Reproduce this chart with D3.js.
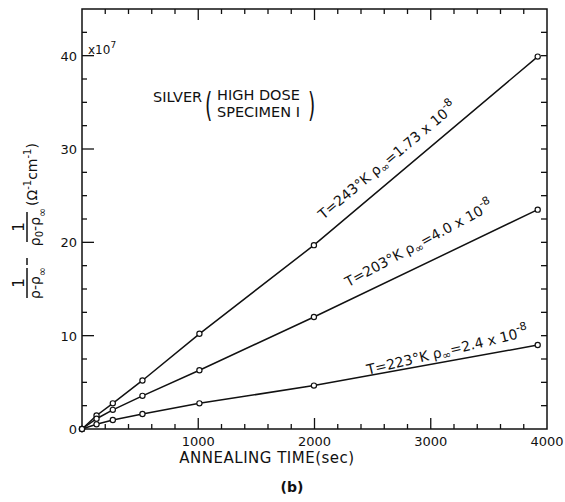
<!DOCTYPE html>
<html>
<head>
<meta charset="UTF-8">
<style>
  body { margin: 0; background: #fff; }
  svg { display: block; font-family: "DejaVu Sans", sans-serif; }
  text { fill: #111; }
</style>
</head>
<body>
<svg id="chart" width="565" height="502"></svg>
<script src="https://d3js.org/d3.v7.min.js"></script>
<script>
// annealing times (sec) at which resistivity was measured
const times = [0, 125, 265, 520, 1010, 1995, 3920];
// 1/(rho-rho_inf) - 1/(rho0-rho_inf), units of 1e7 ohm^-1 cm^-1
const s243 = [0, 1.45, 2.75, 5.2, 10.2, 19.7, 39.9];
const s203 = [0, 1.1, 2.05, 3.55, 6.3, 12.0, 23.5];
const s223 = [0, 0.5, 0.97, 1.6, 2.75, 4.65, 9.0];
const xTicks = [1000, 2000, 3000, 4000];
const yTicks = [0, 10, 20, 30, 40];

const series = [
  { values: s243, T: "243", rho: "1.73", at: [2075, 22.4], angle: -39.7 },
  { values: s203, T: "203", rho: "4.0", at: [2290, 15.2], angle: -28.3 },
  { values: s223, T: "223", rho: "2.4", at: [2460, 5.8], angle: -13.6 }
];

const svg = d3.select("#chart");
const x = d3.scaleLinear().domain([0, 4000]).range([82, 547]);
const y = d3.scaleLinear().domain([0, 45]).range([429, 9]);

// frame
svg.append("rect")
  .attr("x", x(0)).attr("y", y(45))
  .attr("width", x(4000) - x(0)).attr("height", y(0) - y(45))
  .attr("fill", "none").attr("stroke", "#111").attr("stroke-width", 1.5);

// ticks (inward on all four sides)
const ticks = svg.append("g").attr("stroke", "#111").attr("stroke-width", 1.3);
d3.range(200, 4000, 200).forEach(t => {
  const major = t % 1000 === 0;
  const len = major ? 11 : 5;
  ticks.append("line").attr("x1", x(t)).attr("x2", x(t)).attr("y1", y(0)).attr("y2", y(0) - len);
  ticks.append("line").attr("x1", x(t)).attr("x2", x(t)).attr("y1", y(45)).attr("y2", y(45) + len);
});
d3.range(2.5, 45, 2.5).forEach(v => {
  const major = v % 10 === 0;
  ticks.append("line").attr("x1", x(0)).attr("x2", x(0) + (major ? 12 : 5)).attr("y1", y(v)).attr("y2", y(v));
  ticks.append("line").attr("x1", x(4000)).attr("x2", x(4000) - 6).attr("y1", y(v)).attr("y2", y(v));
});

// tick labels
svg.append("g").selectAll("text").data(xTicks).join("text")
  .attr("x", d => x(d)).attr("y", 446)
  .attr("text-anchor", "middle").attr("font-size", 13)
  .text(d => d);
svg.append("g").selectAll("text").data(yTicks).join("text")
  .attr("x", 77).attr("y", d => y(d) + 5)
  .attr("text-anchor", "end").attr("font-size", 13)
  .text(d => d);

const mult = svg.append("text").attr("x", 88).attr("y", 54).attr("font-size", 12);
mult.append("tspan").text("x10");
mult.append("tspan").attr("dy", -6).attr("font-size", 9).text("7");

// lines and points
const line = d3.line().x((d, i) => x(times[i])).y(d => y(d));
series.forEach(s => {
  svg.append("path").datum(s.values)
    .attr("d", line).attr("fill", "none")
    .attr("stroke", "#111").attr("stroke-width", 1.5);
  svg.append("g").selectAll("circle").data(s.values).join("circle")
    .attr("cx", (d, i) => x(times[i])).attr("cy", d => y(d))
    .attr("r", 2.6).attr("fill", "#fff")
    .attr("stroke", "#111").attr("stroke-width", 1.2);

  const lab = svg.append("text")
    .attr("transform", `translate(${x(s.at[0])},${y(s.at[1])}) rotate(${s.angle})`)
    .attr("font-size", 14);
  lab.append("tspan").text(`T=${s.T}°K  ρ`);
  lab.append("tspan").attr("dy", 3).attr("font-size", 11).text("∞");
  lab.append("tspan").attr("dy", -3).text(`=${s.rho} x 10`);
  lab.append("tspan").attr("dy", -7).attr("font-size", 11).text("-8");
});

// title block
svg.append("text").attr("x", 153).attr("y", 102).attr("font-size", 14.5).text("SILVER");
svg.append("text").attr("transform", "translate(205,117) scale(0.55,1)")
  .attr("font-size", 34).text("(");
svg.append("text").attr("x", 217).attr("y", 100).attr("font-size", 14.5).text("HIGH DOSE");
svg.append("text").attr("x", 217).attr("y", 117).attr("font-size", 14.5).text("SPECIMEN I");
svg.append("text").attr("transform", "translate(308,117) scale(0.55,1)")
  .attr("font-size", 34).text(")");

// x axis title
svg.append("text").attr("x", 267).attr("y", 463)
  .attr("text-anchor", "middle").attr("font-size", 15)
  .attr("letter-spacing", 0.5).text("ANNEALING  TIME(sec)");
svg.append("text").attr("x", 292).attr("y", 492)
  .attr("text-anchor", "middle").attr("font-size", 14)
  .attr("font-weight", "bold").text("(b)");

// y axis title, built in a rotated frame (local x = -screenY, local y = screenX)
const yl = svg.append("g").attr("transform", "rotate(-90)");
function fraction(cy, denom) {
  yl.append("text").attr("x", -cy).attr("y", 24).attr("text-anchor", "middle")
    .attr("font-size", 15).text("1");
  yl.append("line").attr("x1", -cy - 15).attr("x2", -cy + 15).attr("y1", 27).attr("y2", 27)
    .attr("stroke", "#111").attr("stroke-width", 1.5);
  const t = yl.append("text").attr("x", -cy).attr("y", 40).attr("text-anchor", "middle")
    .attr("font-size", 14);
  denom(t);
}
fraction(283, t => {
  t.append("tspan").text("ρ-ρ");
  t.append("tspan").attr("dy", 6).attr("font-size", 11).text("∞");
});
fraction(227, t => {
  t.append("tspan").text("ρ");
  t.append("tspan").attr("dy", 3).attr("font-size", 10).text("0");
  t.append("tspan").attr("dy", -3).text("-ρ");
  t.append("tspan").attr("dy", 6).attr("font-size", 11).text("∞");
});
yl.append("line").attr("x1", -265).attr("x2", -258).attr("y1", 27).attr("y2", 27)
  .attr("stroke", "#111").attr("stroke-width", 1.5);
const units = yl.append("text").attr("x", -206).attr("y", 37).attr("font-size", 14);
units.append("tspan").text("(Ω");
units.append("tspan").attr("dy", -6).attr("font-size", 10).text("-1");
units.append("tspan").attr("dy", 6).text("cm");
units.append("tspan").attr("dy", -6).attr("font-size", 10).text("-1");
units.append("tspan").attr("dy", 6).text(")");
</script>
</body>
</html>
